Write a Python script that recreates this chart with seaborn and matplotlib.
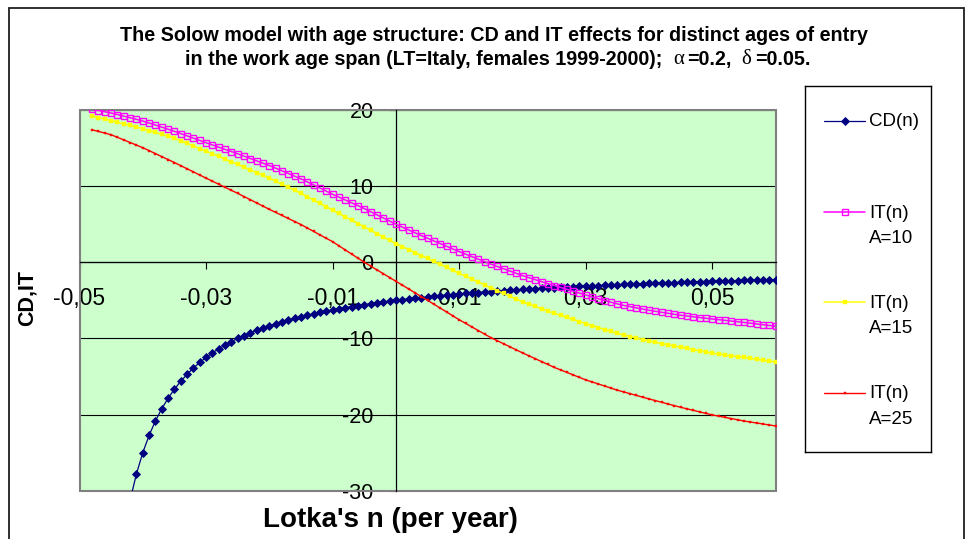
import matplotlib
matplotlib.use('Agg')
import matplotlib.pyplot as plt
import seaborn as sns
from matplotlib.patches import Rectangle

# Lotka's n (per year) - one point per 0.001
n = [-0.048, -0.047, -0.046, -0.045, -0.044, -0.043, -0.042, -0.041, -0.040, -0.039,
     -0.038, -0.037, -0.036, -0.035, -0.034, -0.033, -0.032, -0.031, -0.030, -0.029,
     -0.028, -0.027, -0.026, -0.025, -0.024, -0.023, -0.022, -0.021, -0.020, -0.019,
     -0.018, -0.017, -0.016, -0.015, -0.014, -0.013, -0.012, -0.011, -0.010, -0.009,
     -0.008, -0.007, -0.006, -0.005, -0.004, -0.003, -0.002, -0.001, 0.000, 0.001,
     0.002, 0.003, 0.004, 0.005, 0.006, 0.007, 0.008, 0.009, 0.010, 0.011,
     0.012, 0.013, 0.014, 0.015, 0.016, 0.017, 0.018, 0.019, 0.020, 0.021,
     0.022, 0.023, 0.024, 0.025, 0.026, 0.027, 0.028, 0.029, 0.030, 0.031,
     0.032, 0.033, 0.034, 0.035, 0.036, 0.037, 0.038, 0.039, 0.040, 0.041,
     0.042, 0.043, 0.044, 0.045, 0.046, 0.047, 0.048, 0.049, 0.050, 0.051,
     0.052, 0.053, 0.054, 0.055, 0.056, 0.057, 0.058, 0.059, 0.060]

cd = [-125.00, -83.33, -62.50, -50.00, -41.67, -35.71, -31.25, -27.78, -25.00, -22.73,
      -20.83, -19.23, -17.86, -16.67, -15.63, -14.71, -13.89, -13.16, -12.50, -11.90,
      -11.36, -10.87, -10.42, -10.00, -9.62, -9.26, -8.93, -8.62, -8.33, -8.06,
      -7.81, -7.58, -7.35, -7.14, -6.94, -6.76, -6.58, -6.41, -6.25, -6.10,
      -5.95, -5.81, -5.68, -5.56, -5.43, -5.32, -5.21, -5.10, -5.00, -4.90,
      -4.81, -4.72, -4.63, -4.55, -4.46, -4.39, -4.31, -4.24, -4.17, -4.10,
      -4.03, -3.97, -3.91, -3.85, -3.79, -3.73, -3.68, -3.62, -3.57, -3.52,
      -3.47, -3.42, -3.38, -3.33, -3.29, -3.25, -3.21, -3.16, -3.13, -3.09,
      -3.05, -3.01, -2.98, -2.94, -2.91, -2.87, -2.84, -2.81, -2.78, -2.75,
      -2.72, -2.69, -2.66, -2.63, -2.60, -2.58, -2.55, -2.53, -2.50, -2.48,
      -2.45, -2.43, -2.40, -2.38, -2.36, -2.34, -2.32, -2.29, -2.27]

it_a10 = [20.10, 19.93, 19.77, 19.60, 19.40, 19.19, 18.98, 18.77, 18.55, 18.29,
          18.02, 17.75, 17.47, 17.20, 16.90, 16.60, 16.30, 16.00, 15.70, 15.41,
          15.12, 14.83, 14.54, 14.25, 13.94, 13.63, 13.32, 13.01, 12.70, 12.36,
          12.01, 11.66, 11.30, 10.95, 10.56, 10.16, 9.76, 9.34, 8.92, 8.55,
          8.18, 7.80, 7.43, 7.05, 6.64, 6.23, 5.82, 5.41, 5.00, 4.62,
          4.25, 3.88, 3.51, 3.15, 2.80, 2.45, 2.10, 1.75, 1.40, 1.07,
          0.74, 0.41, 0.08, -0.25, -0.55, -0.85, -1.15, -1.45, -1.75, -2.02,
          -2.29, -2.55, -2.80, -3.05, -3.30, -3.55, -3.80, -4.05, -4.30, -4.55,
          -4.79, -5.02, -5.25, -5.47, -5.66, -5.83, -5.99, -6.15, -6.30, -6.44,
          -6.57, -6.70, -6.83, -6.95, -7.06, -7.16, -7.26, -7.36, -7.45, -7.54,
          -7.63, -7.72, -7.81, -7.90, -8.00, -8.10, -8.20, -8.30, -8.40]

it_a15 = [19.20, 19.00, 18.80, 18.60, 18.39, 18.18, 17.97, 17.76, 17.55, 17.30,
          17.05, 16.80, 16.55, 16.30, 15.96, 15.62, 15.28, 14.94, 14.60, 14.25,
          13.90, 13.55, 13.20, 12.85, 12.49, 12.13, 11.77, 11.41, 11.05, 10.65,
          10.25, 9.85, 9.45, 9.05, 8.61, 8.17, 7.73, 7.29, 6.85, 6.41,
          5.97, 5.53, 5.09, 4.65, 4.21, 3.77, 3.33, 2.89, 2.45, 2.06,
          1.67, 1.28, 0.89, 0.50, 0.11, -0.28, -0.67, -1.06, -1.45, -1.83,
          -2.21, -2.59, -2.97, -3.35, -3.72, -4.09, -4.46, -4.83, -5.20, -5.50,
          -5.80, -6.10, -6.40, -6.70, -6.97, -7.24, -7.51, -7.78, -8.05, -8.31,
          -8.57, -8.83, -9.09, -9.35, -9.55, -9.75, -9.95, -10.15, -10.35, -10.51,
          -10.67, -10.83, -10.99, -11.15, -11.31, -11.47, -11.63, -11.79, -11.95, -12.06,
          -12.17, -12.28, -12.39, -12.50, -12.62, -12.74, -12.86, -12.98, -13.10]

it_a25 = [17.40, 17.18, 16.97, 16.75, 16.41, 16.07, 15.73, 15.39, 15.05, 14.66,
          14.27, 13.88, 13.49, 13.10, 12.69, 12.28, 11.87, 11.46, 11.05, 10.65,
          10.25, 9.85, 9.45, 9.05, 8.63, 8.21, 7.79, 7.37, 6.95, 6.55,
          6.15, 5.75, 5.35, 4.95, 4.50, 4.05, 3.60, 3.15, 2.70, 2.16,
          1.62, 1.08, 0.54, 0.00, -0.50, -1.00, -1.50, -2.00, -2.50, -3.00,
          -3.50, -4.00, -4.50, -5.00, -5.51, -6.02, -6.53, -7.04, -7.55, -8.02,
          -8.49, -8.96, -9.43, -9.90, -10.30, -10.70, -11.10, -11.50, -11.90, -12.28,
          -12.66, -13.04, -13.42, -13.80, -14.13, -14.46, -14.79, -15.12, -15.45, -15.72,
          -15.99, -16.26, -16.53, -16.80, -17.03, -17.26, -17.49, -17.72, -17.95, -18.17,
          -18.39, -18.61, -18.83, -19.05, -19.25, -19.45, -19.65, -19.85, -20.05, -20.21,
          -20.37, -20.53, -20.69, -20.85, -20.98, -21.11, -21.24, -21.37, -21.50]

x_ticks = [-0.05, -0.03, -0.01, 0.01, 0.03, 0.05]
x_tick_labels = ['-0,05', '-0,03', '-0,01', '0,01', '0,03', '0,05']
y_ticks = [-30, -20, -10, 0, 10, 20]
y_tick_labels = ['-30', '-20', '-10', '0', '10', '20']

legend_labels = ['CD(n)', 'IT(n)\nA=10', 'IT(n)\nA=15', 'IT(n)\nA=25']

sns.set_theme(style='white')
plt.rcParams['font.family'] = ['Liberation Sans', 'DejaVu Sans']
plt.rcParams['axes.unicode_minus'] = False
plt.rcParams['text.color'] = 'black'

W, H = 969, 539
fig = plt.figure(figsize=(W / 100, H / 100), dpi=100)
fig.patch.set_facecolor('white')


def fx(px):
    return px / W


def fy(py):
    return 1 - py / H


# outer chart frame
fig.add_artist(Rectangle((fx(9), -0.05), fx(964) - fx(9), fy(8) + 0.05,
                         transform=fig.transFigure, fill=False, ec='#202020', lw=1.3))

ax = fig.add_axes([fx(79.5), fy(490.7), fx(775.7) - fx(79.5), fy(110) - fy(490.7)])
ax.set_facecolor('#CCFFCC')

styles = [
    dict(color='#000080', lw=0.9, marker='D', ms=4.3, mec='#000080', mfc='#000080', mew=0.6),
    dict(color='#FF00FF', lw=1.1, marker='s', ms=4.2, mec='#FF00FF', mfc='none', mew=1.0),
    dict(color='#FFFF00', lw=1.1, marker='s', ms=2.6, mec='#FFFF00', mfc='#FFFF00', mew=0.3),
    dict(color='#FF0000', lw=1.0, marker='s', ms=1.8, mec='#FF0000', mfc='#FF0000', mew=0.3),
]
series = [cd, it_a10, it_a15, it_a25]
for vals, st in zip(series, styles):
    sns.lineplot(x=n, y=vals, ax=ax, sort=False, errorbar=None, legend=False, **st)

ax.set_xlim(-0.05, 0.06)
ax.set_ylim(-30, 20)
ax.set_xticks(x_ticks, labels=x_tick_labels)
ax.set_yticks(y_ticks, labels=y_tick_labels)
ax.set_xlabel('')
ax.set_ylabel('')

for side in ['top', 'right']:
    ax.spines[side].set_visible(False)
ax.spines['left'].set_position(('data', 0))
ax.spines['bottom'].set_position(('data', 0))
for side in ['left', 'bottom']:
    ax.spines[side].set_color('black')
    ax.spines[side].set_linewidth(0.9)
    ax.spines[side].set_zorder(1.8)

ax.tick_params(axis='x', bottom=True, direction='out', length=5, width=0.8,
               pad=13, labelsize=16.5, color='black', labelcolor='black')
ax.tick_params(axis='y', left=True, direction='out', length=5, width=0.8,
               pad=11, labelsize=15.5, color='black', labelcolor='black')
ax.set_axisbelow(True)
ax.yaxis.grid(True, color='black', lw=0.8)
ax.xaxis.grid(False)
ax.add_patch(Rectangle((0, 0), 1, 1, transform=ax.transAxes, fill=False,
                       ec='#808080', lw=1.5, zorder=1.6, clip_on=False))

# axis titles
fig.text(fx(390), fy(520), "Lotka's n (per year)", ha='center', va='center',
         fontsize=20, fontweight='bold')
fig.text(fx(27), fy(298), 'CD,IT', ha='center', va='center', rotation=90,
         fontsize=15.5, fontweight='bold')

# title
fig.text(fx(494), fy(41), 'The Solow model with age structure: CD and IT effects for distinct ages of entry',
         ha='center', va='baseline', fontsize=14.2, fontweight='bold')
bold = dict(fontsize=14.2, fontweight='bold')
greek = dict(fontsize=15, family=['Liberation Serif', 'DejaVu Serif'])
t1 = fig.text(fx(180), fy(65), 'in the work age span (LT=Italy, females 1999-2000);',
              ha='left', va='baseline', **bold)
pieces = [('α', greek, 7.5), ('=0.2,', bold, 2.5), ('δ', greek, 7.0), ('=0.05.', bold, 2.5)]
prev = t1
for txt, props, gap in pieces:
    prev = ax.annotate(txt, xy=(1, 0), xycoords=prev, xytext=(gap, 0),
                       textcoords='offset points', ha='left', va='bottom', **props)
fig.canvas.draw()
r = fig.canvas.get_renderer()
width = prev.get_window_extent(r).x1 - t1.get_window_extent(r).x0
t1.set_x(fx(498 - width / 2))

# legend box
lax = fig.add_axes([fx(805), fy(452), fx(931) - fx(805), fy(86) - fy(452)])
lax.set_xlim(805, 931)
lax.set_ylim(452, 86)
lax.set_xticks([])
lax.set_yticks([])
lax.set_facecolor('white')
for sp in lax.spines.values():
    sp.set_color('black')
    sp.set_linewidth(1.0)
    sp.set_visible(True)
legend_y = [121, 212, 302, 393]
for lab, st, yy in zip(legend_labels, styles, legend_y):
    lax.plot([824, 844.5, 865], [yy, yy, yy], markevery=[1], **st)
    lax.text(869, yy - 7.5, lab, ha='left', va='top', fontsize=13.5, linespacing=1.68)

fig.savefig('out.png', dpi=100)
